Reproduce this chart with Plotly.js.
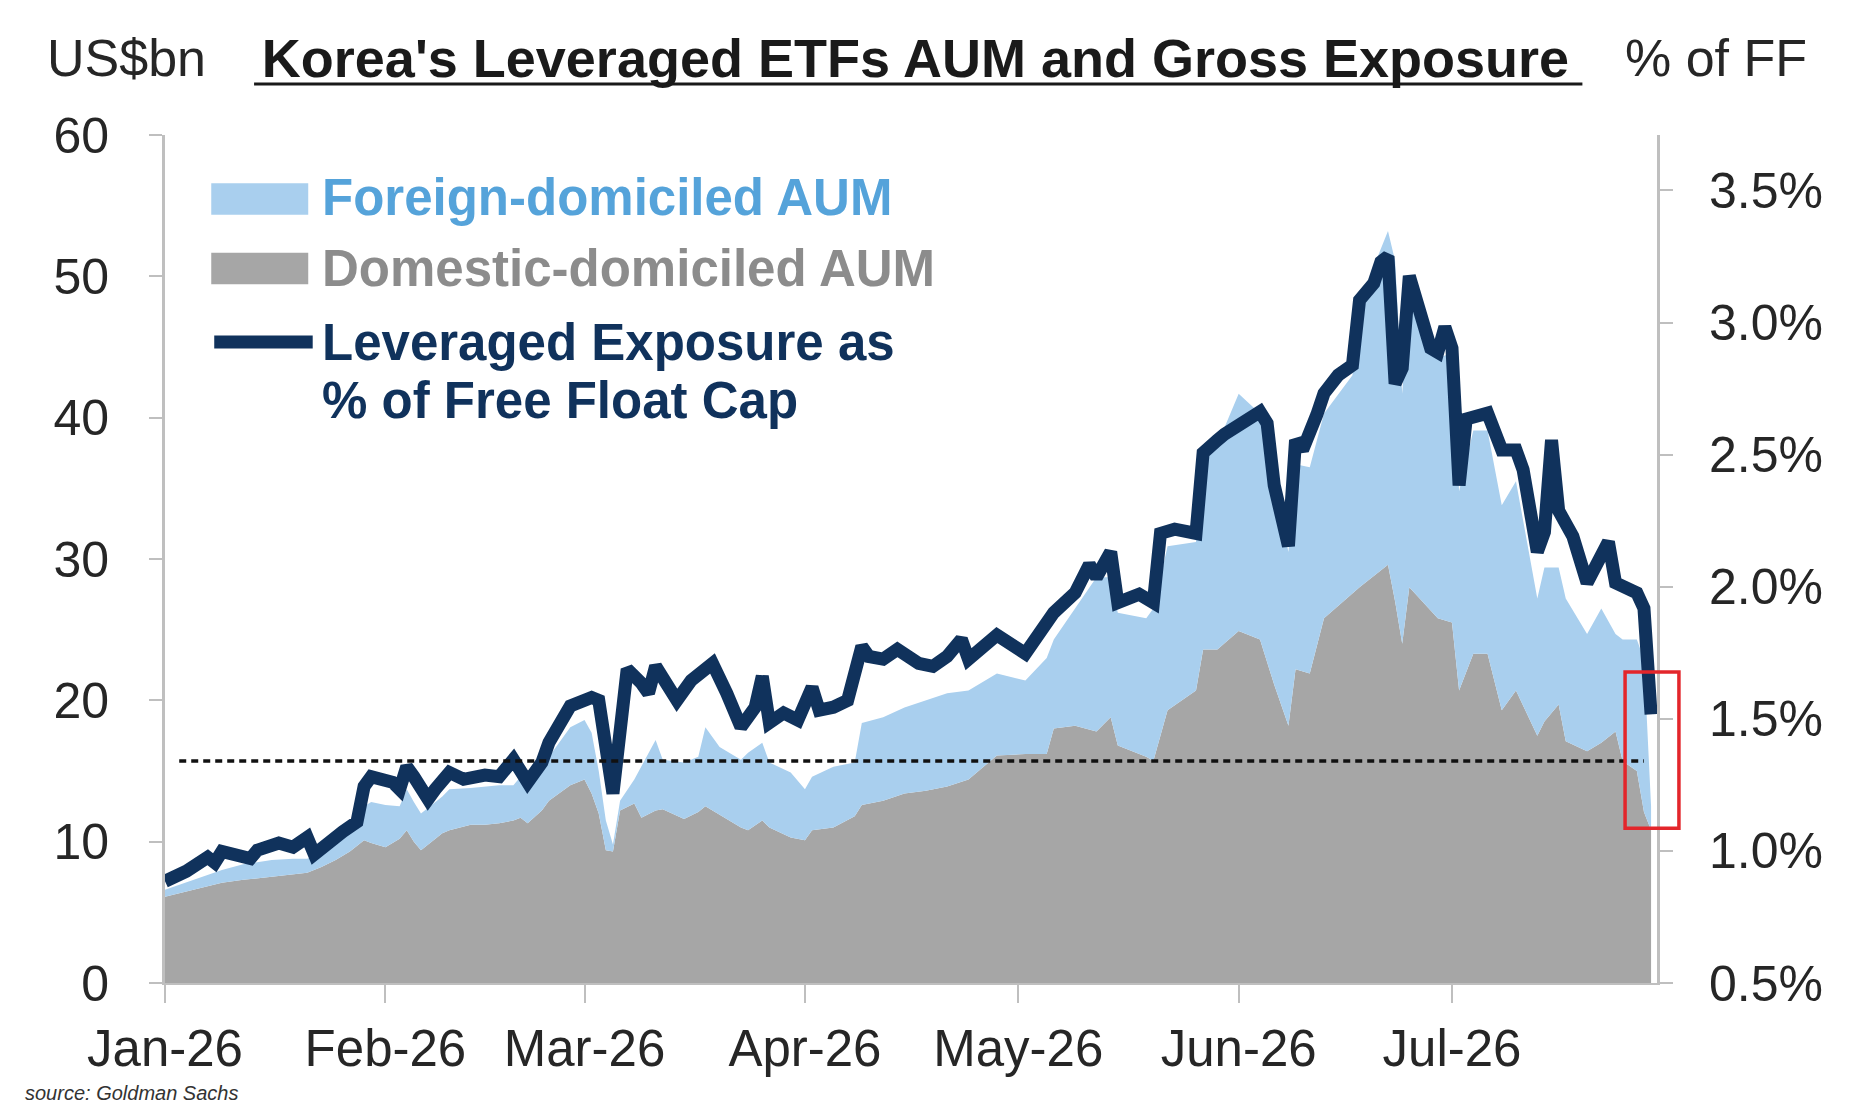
<!DOCTYPE html>
<html>
<head>
<meta charset="utf-8">
<script src="https://cdn.plot.ly/plotly-3.0.1.min.js"></script>
<style>
  html, body { margin: 0; padding: 0; background: #ffffff; }
  #chart { width: 1860px; height: 1116px; }
</style>
</head>
<body>
<div id="chart"></div>
<script>
// Korea's leveraged ETFs: AUM (stacked areas, left axis) and gross exposure (line, right axis)

var areaDates = [
  '2026-01-01','2026-01-05','2026-01-09','2026-01-12','2026-01-16','2026-01-19','2026-01-21','2026-01-23','2026-01-25','2026-01-27','2026-01-29','2026-01-30',
  '2026-02-01','2026-02-03','2026-02-04','2026-02-05','2026-02-06','2026-02-09','2026-02-10','2026-02-13','2026-02-15','2026-02-17','2026-02-19','2026-02-20','2026-02-21','2026-02-23','2026-02-24','2026-02-27',
  '2026-03-01','2026-03-02','2026-03-03','2026-03-04','2026-03-05','2026-03-06','2026-03-08','2026-03-09','2026-03-11','2026-03-12','2026-03-15','2026-03-17','2026-03-18','2026-03-20','2026-03-23','2026-03-24','2026-03-26','2026-03-27','2026-03-30',
  '2026-04-01','2026-04-02','2026-04-05','2026-04-08','2026-04-09','2026-04-12','2026-04-15','2026-04-18','2026-04-21','2026-04-24','2026-04-28',
  '2026-05-02','2026-05-05','2026-05-06','2026-05-09','2026-05-12','2026-05-14','2026-05-15','2026-05-19','2026-05-20','2026-05-22','2026-05-26','2026-05-27','2026-05-29',
  '2026-06-01','2026-06-04','2026-06-06','2026-06-08','2026-06-09','2026-06-11','2026-06-13','2026-06-17','2026-06-18','2026-06-22','2026-06-23','2026-06-24','2026-06-25','2026-06-29',
  '2026-07-01','2026-07-02','2026-07-04','2026-07-06','2026-07-08','2026-07-10','2026-07-13','2026-07-14','2026-07-16','2026-07-17','2026-07-20','2026-07-22','2026-07-24','2026-07-25','2026-07-27','2026-07-28','2026-07-29'
];

// US$bn
var domesticAUM = [
  6.1, 6.6, 7.1, 7.3, 7.5, 7.7, 7.8, 8.2, 8.7, 9.3, 10.1, 9.9,
  9.6, 10.2, 10.8, 10.0, 9.4, 10.6, 10.8, 11.2, 11.2, 11.3, 11.5, 11.7, 11.3, 12.2, 12.9, 14.0,
  14.4, 13.4, 12.0, 9.4, 9.3, 12.2, 12.7, 11.7, 12.2, 12.3, 11.6, 12.1, 12.5, 11.9, 11.0, 10.8, 11.5, 11.0, 10.3,
  10.1, 10.8, 11.0, 11.8, 12.6, 12.9, 13.4, 13.6, 13.9, 14.4, 16.1,
  16.2, 16.2, 18.0, 18.2, 17.8, 18.8, 16.8, 16.0, 15.7, 19.3, 20.7, 23.6, 23.6,
  24.9, 24.3, 21.1, 18.2, 22.2, 21.9, 25.8, 27.6, 28.0, 29.6, 27.0, 24.0, 28.0, 25.8,
  25.5, 20.7, 23.3, 23.3, 19.3, 20.7, 17.5, 18.5, 19.7, 17.1, 16.4, 17.0, 17.8, 15.7, 15.0, 12.1, 10.8
];

var foreignAUM = [
  0.5, 0.7, 0.9, 1.1, 1.2, 1.1, 1.0, 1.1, 1.2, 1.5, 2.4, 2.9,
  3.0, 2.3, 2.9, 2.8, 2.6, 2.6, 2.9, 2.6, 2.7, 2.7, 2.5, 2.9, 2.1, 3.4, 3.1, 4.1,
  4.2, 4.3, 3.0, 2.1, 0.5, 0.7, 1.7, 3.6, 5.0, 3.5, 4.0, 3.9, 5.6, 4.8, 4.8, 5.5, 5.5, 4.6, 4.6,
  3.6, 3.8, 4.3, 3.8, 5.8, 5.9, 6.1, 6.4, 6.6, 6.3, 5.8,
  5.2, 6.8, 6.3, 8.3, 10.9, 9.9, 9.4, 9.8, 10.8, 11.6, 10.5, 13.1, 14.5,
  16.8, 16.0, 14.1, 12.3, 14.5, 14.6, 14.5, 15.4, 20.2, 23.6, 24.1, 17.7, 21.6, 18.4,
  19.1, 14.1, 15.8, 15.8, 14.5, 14.8, 9.7, 10.9, 9.7, 10.1, 8.3, 9.5, 6.9, 8.6, 9.3, 10.8, 1.7
];

var lineDates = [
  '2026-01-01','2026-01-04','2026-01-07','2026-01-08','2026-01-09','2026-01-13','2026-01-14','2026-01-17','2026-01-19','2026-01-21','2026-01-22','2026-01-24','2026-01-26','2026-01-28','2026-01-29','2026-01-30',
  '2026-02-02','2026-02-03','2026-02-04','2026-02-05','2026-02-07','2026-02-08','2026-02-10','2026-02-12','2026-02-15','2026-02-17','2026-02-19','2026-02-21','2026-02-23','2026-02-24','2026-02-26','2026-02-27',
  '2026-03-02','2026-03-03','2026-03-05','2026-03-07','2026-03-09','2026-03-10','2026-03-11','2026-03-14','2026-03-16','2026-03-19','2026-03-21','2026-03-23','2026-03-25','2026-03-26','2026-03-27','2026-03-29','2026-03-31',
  '2026-04-02','2026-04-03','2026-04-05','2026-04-07','2026-04-09','2026-04-10','2026-04-12','2026-04-14','2026-04-17','2026-04-19','2026-04-21','2026-04-23','2026-04-24','2026-04-28',
  '2026-05-02','2026-05-06','2026-05-09','2026-05-11','2026-05-12','2026-05-14','2026-05-15','2026-05-18','2026-05-20','2026-05-21','2026-05-23','2026-05-26','2026-05-27','2026-05-29','2026-05-30',
  '2026-06-04','2026-06-05','2026-06-06','2026-06-08','2026-06-09','2026-06-10','2026-06-12','2026-06-13','2026-06-15','2026-06-17','2026-06-18','2026-06-20','2026-06-21','2026-06-22','2026-06-23','2026-06-24','2026-06-25','2026-06-27','2026-06-28','2026-06-29','2026-06-30',
  '2026-07-01','2026-07-02','2026-07-03','2026-07-06','2026-07-08','2026-07-10','2026-07-11','2026-07-13','2026-07-14','2026-07-15','2026-07-16','2026-07-17','2026-07-18','2026-07-20','2026-07-23','2026-07-24','2026-07-27','2026-07-28','2026-07-29'
];

// % of free float cap
var leveragedPct = [
  0.885, 0.923, 0.976, 0.955, 0.998, 0.971, 1.003, 1.030, 1.014, 1.051, 0.987, 1.035, 1.073, 1.110, 1.244, 1.281,
  1.260, 1.233, 1.319, 1.281, 1.196, 1.233, 1.297, 1.271, 1.287, 1.281, 1.346, 1.260, 1.335, 1.410, 1.506, 1.549,
  1.581, 1.570, 1.217, 1.688, 1.635, 1.597, 1.699, 1.570, 1.645, 1.710, 1.597, 1.469, 1.544, 1.661, 1.485, 1.522, 1.495,
  1.619, 1.533, 1.544, 1.570, 1.774, 1.736, 1.726, 1.763, 1.710, 1.699, 1.736, 1.801, 1.726, 1.817,
  1.747, 1.902, 1.977, 2.084, 2.036, 2.132, 1.940, 1.972, 1.940, 2.202, 2.218, 2.202, 2.507, 2.555, 2.577,
  2.662, 2.619, 2.384, 2.154, 2.555, 2.518, 2.652, 2.732, 2.801, 2.839, 3.085, 3.149, 3.230, 3.251, 2.769, 2.828, 3.176, 2.983, 2.903, 2.887, 2.983,
  2.903, 2.384, 2.635, 2.657, 2.518, 2.518, 2.443, 2.132, 2.207, 2.555, 2.288, 2.229, 2.191, 2.015, 2.170, 2.015, 1.977, 1.918, 1.517
];

var monthTicks = ['2026-01-01','2026-02-01','2026-03-01','2026-04-01','2026-05-01','2026-06-01','2026-07-01'];
var monthLabels = ['Jan-26','Feb-26','Mar-26','Apr-26','May-26','Jun-26','Jul-26'];
var pctTicks = [0.5, 1.0, 1.5, 2.0, 2.5, 3.0, 3.5];
var pctLabels = ['0.5%','1.0%','1.5%','2.0%','2.5%','3.0%','3.5%'];
var aumTicks = [0, 10, 20, 30, 40, 50, 60];

var thresholdAUM = 15.7;

var navy = '#10325c';
var lightBlue = '#a9cfee';
var grey = '#a6a6a6';
var font = 'Liberation Sans, Arial, sans-serif';

var traces = [
  {
    x: areaDates, y: domesticAUM,
    type: 'scatter', mode: 'lines', stackgroup: 'aum',
    line: {width: 0}, fillcolor: grey,
    name: 'Domestic-domiciled AUM'
  },
  {
    x: areaDates, y: foreignAUM,
    type: 'scatter', mode: 'lines', stackgroup: 'aum',
    line: {width: 0}, fillcolor: lightBlue,
    name: 'Foreign-domiciled AUM'
  },
  {
    x: lineDates, y: leveragedPct,
    type: 'scatter', mode: 'lines', yaxis: 'y2',
    line: {color: navy, width: 13},
    name: 'Leveraged Exposure as % of Free Float Cap'
  }
];

var axisGrey = '#bfbfbf';

var layout = {
  width: 1860,
  height: 1116,
  showlegend: false,
  paper_bgcolor: '#ffffff',
  plot_bgcolor: '#ffffff',
  margin: {l: 165, r: 203, t: 135, b: 133, pad: 0},
  font: {family: font, color: '#262626', size: 50},
  title: {
    text: "<b>Korea's Leveraged ETFs AUM and Gross Exposure</b>",
    font: {family: font, size: 54, color: '#1a1a1a'},
    x: 0.503, xref: 'paper', xanchor: 'center',
    y: 0.948, yref: 'container', yanchor: 'middle'
  },
  xaxis: {
    type: 'date',
    range: ['2026-01-01', '2026-07-29 20:00'],
    tickmode: 'array',
    tickvals: monthTicks,
    ticktext: monthLabels,
    ticks: 'outside', ticklen: 18, tickwidth: 2, tickcolor: axisGrey,
    showline: true, linecolor: axisGrey, linewidth: 2,
    showgrid: false, zeroline: false,
    tickfont: {family: font, size: 51, color: '#262626'},
    ticklabelstandoff: 2
  },
  yaxis: {
    range: [0, 60],
    tickmode: 'array', tickvals: aumTicks,
    ticks: 'outside', ticklen: 13, tickwidth: 2, tickcolor: axisGrey,
    showline: true, linecolor: axisGrey, linewidth: 3,
    showgrid: false, zeroline: false,
    tickfont: {family: font, size: 50, color: '#262626'},
    ticklabelstandoff: 30
  },
  yaxis2: {
    overlaying: 'y', side: 'right',
    range: [0.5, 3.71],
    tickmode: 'array', tickvals: pctTicks, ticktext: pctLabels,
    ticks: 'outside', ticklen: 13, tickwidth: 2, tickcolor: axisGrey,
    showline: true, linecolor: axisGrey, linewidth: 3,
    showgrid: false, zeroline: false,
    tickfont: {family: font, size: 50, color: '#262626'},
    ticklabelstandoff: 26
  },
  shapes: [
    // dashed threshold
    {type: 'line', xref: 'x', yref: 'y', x0: '2026-01-03', x1: '2026-07-28',
     y0: thresholdAUM, y1: thresholdAUM, line: {color: '#111111', width: 3.5, dash: '7px,5px'}},
    // red highlight box at the latest reading
    {type: 'rect', xref: 'paper', yref: 'y', x0: 0.9786, x1: 1.0147, y0: 10.95, y1: 22.0,
     line: {color: '#e3262b', width: 3.5}, fillcolor: 'rgba(0,0,0,0)'},
    // title underline
    {type: 'line', xref: 'paper', yref: 'paper', x0: 0.0597, x1: 0.950, y0: 1.060, y1: 1.060,
     line: {color: '#1a1a1a', width: 3}},
    // legend swatches
    {type: 'rect', xref: 'paper', yref: 'paper', x0: 0.031, x1: 0.096, y0: 0.906, y1: 0.943,
     line: {width: 0}, fillcolor: lightBlue},
    {type: 'rect', xref: 'paper', yref: 'paper', x0: 0.031, x1: 0.096, y0: 0.824, y1: 0.861,
     line: {width: 0}, fillcolor: grey},
    {type: 'line', xref: 'paper', yref: 'paper', x0: 0.033, x1: 0.099, y0: 0.756, y1: 0.756,
     line: {color: navy, width: 13}}
  ],
  annotations: [
    {text: 'US$bn', xref: 'paper', yref: 'paper', x: -0.0255, y: 1.091,
     xanchor: 'center', yanchor: 'middle', showarrow: false,
     font: {family: font, size: 52, color: '#262626'}},
    {text: '% of FF', xref: 'paper', yref: 'paper', x: 1.0395, y: 1.091,
     xanchor: 'center', yanchor: 'middle', showarrow: false,
     font: {family: font, size: 52, color: '#262626'}},
    {text: '<b>Foreign-domiciled AUM</b>', xref: 'paper', yref: 'paper', x: 0.104, y: 0.926,
     xanchor: 'left', yanchor: 'middle', showarrow: false,
     font: {family: font, size: 51, color: '#55a3da'}},
    {text: '<b>Domestic-domiciled AUM</b>', xref: 'paper', yref: 'paper', x: 0.104, y: 0.842,
     xanchor: 'left', yanchor: 'middle', showarrow: false,
     font: {family: font, size: 51, color: '#8c8c8c'}},
    {text: '<b>Leveraged Exposure as</b>', xref: 'paper', yref: 'paper', x: 0.104, y: 0.755,
     xanchor: 'left', yanchor: 'middle', showarrow: false,
     font: {family: font, size: 51, color: navy}},
    {text: '<b>% of Free Float Cap</b>', xref: 'paper', yref: 'paper', x: 0.104, y: 0.687,
     xanchor: 'left', yanchor: 'middle', showarrow: false,
     font: {family: font, size: 51, color: navy}},
    {text: '<i>source: Goldman Sachs</i>', xref: 'paper', yref: 'paper', x: -0.095, y: -0.130,
     xanchor: 'left', yanchor: 'middle', showarrow: false,
     font: {family: font, size: 20, color: '#333333'}}
  ]
};

Plotly.newPlot('chart', traces, layout, {staticPlot: true, displayModeBar: false});
</script>
</body>
</html>
